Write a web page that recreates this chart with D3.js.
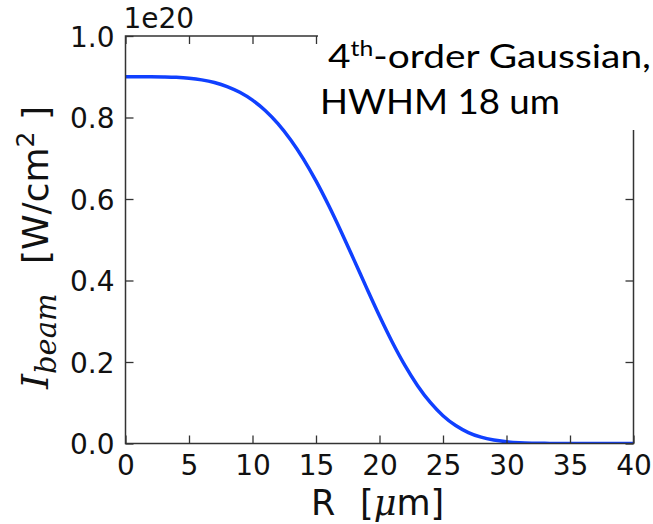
<!DOCTYPE html>
<html>
<head>
<meta charset="utf-8">
<script src="https://cdn.jsdelivr.net/npm/d3@7"></script>
<style>
  html, body { margin: 0; padding: 0; background: #fff; }
  svg { display: block; }
</style>
</head>
<body>
<svg id="chart" width="653" height="524"></svg>
<script>
// ---- data ----
const radius = [0,1,2,3,4,5,6,7,8,9,10,11,12,13,14,15,16,17,18,19,20,21,22,23,24,25,26,27,28,29,30,31,32,33,34,35,36,37,38,39,40];
const intensity = [0.900,0.900,0.900,0.8995,0.8985,0.8963,0.8923,0.8858,0.8760,0.8618,0.8425,0.8171,0.7848,0.7453,0.6984,0.6443,0.5839,0.5185,0.450,0.3807,0.3129,0.2492,0.1917,0.1419,0.1007,0.0682,0.0440,0.0269,0.0155,0.0084,0.0043,0.0020,0.0009,0.0004,0.0001,0,0,0,0,0,0];
const xTicks = [0,5,10,15,20,25,30,35,40];
const yTicks = [0.0,0.2,0.4,0.6,0.8,1.0];
const yScaleLabel = "1e20";
const noteLine1 = ["4", "th", "-order Gaussian,"];
const noteLine2 = "HWHM 18 um";

const svg = d3.select("#chart");
const L = 125.5, R = 633.5, T = 36, B = 443.5;
const x = d3.scaleLinear().domain([0, 40]).range([L, R]);
const y = d3.scaleLinear().domain([0, 1]).range([B, T]);

const tickFont = "DejaVu Sans";
const tickSize = 28;
const tickLen = 8;
const spineColor = "#333";

// clip
svg.append("defs").append("clipPath").attr("id", "clip")
  .append("rect").attr("x", L).attr("y", T).attr("width", R - L).attr("height", B - T);

// curve
const line = d3.line().x((d, i) => x(radius[i])).y(d => y(d)).curve(d3.curveMonotoneX);
svg.append("path")
  .datum(intensity)
  .attr("clip-path", "url(#clip)")
  .attr("d", line)
  .attr("fill", "none")
  .attr("stroke", "#1040ff")
  .attr("stroke-width", 3.5)
  .attr("stroke-linejoin", "round");

// axes (ticks inward, mirrored)
const axB = d3.axisBottom(x).tickValues(xTicks).tickSizeInner(-tickLen).tickSizeOuter(0).tickFormat(d3.format("d"));
const axT = d3.axisTop(x).tickValues(xTicks).tickSizeInner(-tickLen).tickSizeOuter(0).tickFormat("");
const axL = d3.axisLeft(y).tickValues(yTicks).tickSizeInner(-tickLen).tickSizeOuter(0).tickFormat(d3.format(".1f"));
const axRt = d3.axisRight(y).tickValues(yTicks).tickSizeInner(-tickLen).tickSizeOuter(0).tickFormat("");

function styleAxis(g) {
  g.select(".domain").remove();
  g.selectAll(".tick line").attr("stroke", spineColor).attr("stroke-width", 1.3);
  g.selectAll(".tick text").attr("font-family", tickFont).attr("font-size", tickSize).attr("fill", "#111");
}
svg.append("g").attr("transform", `translate(0,${B})`).call(axB).call(styleAxis)
  .selectAll(".tick text").attr("y", 31).attr("dy", null);
svg.append("g").attr("transform", `translate(0,${T})`).call(axT).call(styleAxis);
svg.append("g").attr("transform", `translate(${L},0)`).call(axL).call(styleAxis)
  .selectAll(".tick text").attr("x", -11).attr("dy", "0.36em");
svg.append("g").attr("transform", `translate(${R},0)`).call(axRt).call(styleAxis);

// spines
svg.append("rect").attr("x", L).attr("y", T).attr("width", R - L).attr("height", B - T)
  .attr("fill", "none").attr("stroke", spineColor).attr("stroke-width", 1.5);

// offset text
svg.append("text").attr("x", L - 2).attr("y", 28)
  .attr("font-family", tickFont).attr("font-size", tickSize).attr("fill", "#111")
  .text(yScaleLabel);

// x label
const xl = svg.append("text").attr("y", 515)
  .attr("font-family", tickFont).attr("font-size", 35).attr("fill", "#111");
xl.append("tspan").attr("x", 311).text("R");
xl.append("tspan").attr("x", 360).text("[");
xl.append("tspan").attr("font-family", "DejaVu Serif").attr("font-style", "italic").text("\u03bc");
xl.append("tspan").text("m]");

// y label: symbol part (reads upward from bottom)
const yl1 = svg.append("text")
  .attr("transform", "translate(48,389) rotate(-90)")
  .attr("font-family", "DejaVu Serif").attr("font-style", "italic")
  .attr("font-size", 38).attr("fill", "#111");
yl1.append("tspan").text("I");
yl1.append("tspan").attr("font-size", 29).attr("dy", 8).text("beam");

// y label: unit part, ending at top
const yl2 = svg.append("text")
  .attr("transform", "translate(48,106) rotate(-90)")
  .attr("text-anchor", "end")
  .attr("font-family", tickFont).attr("font-size", 36).attr("fill", "#111");
yl2.append("tspan").text("[W/cm");
yl2.append("tspan").attr("font-size", 25).attr("dy", -14).text("2");
yl2.append("tspan").attr("dy", 14).text("\u00a0]");

// annotation box
svg.append("rect").attr("x", 318).attr("y", 0).attr("width", 335).attr("height", 130).attr("fill", "#fff");

const noteFont = "Lato";
function fitWidth(sel, x0, target) {
  const w = sel.node().getBBox().width;
  sel.attr("transform", `translate(${x0},0) scale(${target / w},1) translate(${-x0},0)`);
}
const n1 = svg.append("text").attr("x", 328).attr("y", 68)
  .attr("font-family", noteFont).attr("font-size", 33).attr("fill", "#000");
n1.append("tspan").text(noteLine1[0]);
n1.append("tspan").attr("font-size", 21).attr("dy", -12).text(noteLine1[1]);
n1.append("tspan").attr("dy", 12).text(noteLine1[2]);
fitWidth(n1, 328, 323);

const n2 = svg.append("text").attr("x", 320).attr("y", 114)
  .attr("font-family", noteFont).attr("font-size", 34).attr("fill", "#000")
  .text(noteLine2);
fitWidth(n2, 320, 240);
</script>
</body>
</html>
